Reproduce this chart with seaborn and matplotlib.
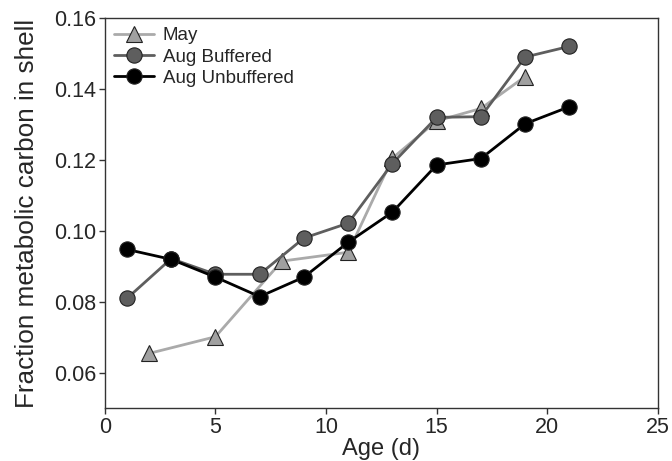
import matplotlib
matplotlib.use("Agg")
import matplotlib.pyplot as plt
import seaborn as sns
import pandas as pd

may_age = [2, 5, 8, 11, 13, 15, 17, 19]
may_frac = [0.0655, 0.0702, 0.0915, 0.0940, 0.1205, 0.1310, 0.1345, 0.1435]

bufd_age = [1, 3, 5, 7, 9, 11, 13, 15, 17, 19, 21]
bufd_frac = [0.0810, 0.0922, 0.0878, 0.0878, 0.0980, 0.1022, 0.1190, 0.1320, 0.1322, 0.1490, 0.1520]

unbuf_age = [1, 3, 5, 7, 9, 11, 13, 15, 17, 19, 21]
unbuf_frac = [0.0948, 0.0920, 0.0870, 0.0815, 0.0870, 0.0968, 0.1053, 0.1186, 0.1204, 0.1302, 0.1350]

sns.set_style("ticks")
plt.rcParams['font.family'] = ['Liberation Sans', 'DejaVu Sans']

fig = plt.figure(figsize=(6.72, 4.61), dpi=100)
ax = fig.add_axes([0.156, 0.114, 0.823, 0.847])

series = [
    ("May", may_age, may_frac, "#aaaaaa", "#a0a0a0", "^", 11),
    ("Aug Buffered", bufd_age, bufd_frac, "#5e5e5e", "#5e5e5e", "o", 11),
    ("Aug Unbuffered", unbuf_age, unbuf_frac, "#000000", "#000000", "o", 11),
]
for name, xs, ys, lc, mc, mk, ms in series:
    df = pd.DataFrame({"Age": xs, "Frac": ys})
    sns.lineplot(data=df, x="Age", y="Frac", ax=ax, color=lc, linewidth=2.0,
                 marker=mk, markersize=ms, markerfacecolor=mc,
                 markeredgecolor="#222222", markeredgewidth=0.8, label=name)

ax.set_xlim(0, 25)
ax.set_ylim(0.05, 0.16)
ax.set_xticks([0, 5, 10, 15, 20, 25])
ax.set_yticks([0.06, 0.08, 0.10, 0.12, 0.14, 0.16])
ax.set_yticklabels(["0.06", "0.08", "0.10", "0.12", "0.14", "0.16"])
ax.set_xlabel("Age (d)", fontsize=17, labelpad=0)
ax.set_ylabel("Fraction metabolic carbon in shell", fontsize=18.8, labelpad=11)
ax.tick_params(axis="both", labelsize=15.5, direction="out", length=4, width=1, color="#333333", pad=2)
for s in ax.spines.values():
    s.set_visible(True)
    s.set_linewidth(1.0)
    s.set_color("#333333")

leg = ax.legend(loc="upper left", frameon=False, fontsize=13.5, handlelength=2.1,
                handletextpad=0.5, labelspacing=0.22, borderaxespad=0.1)

fig.savefig("out.png", dpi=100)
